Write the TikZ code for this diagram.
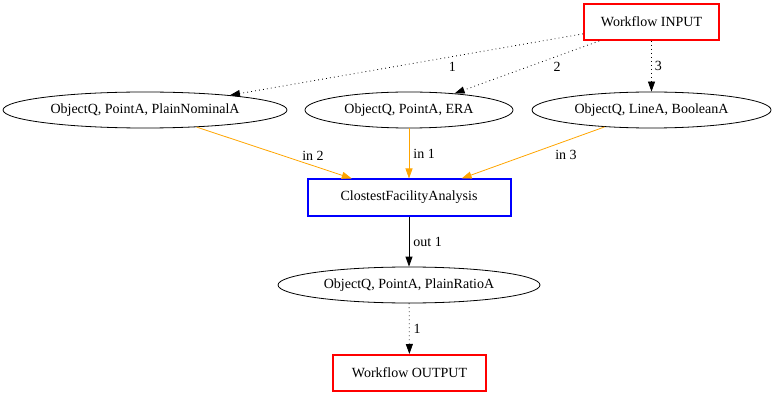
\documentclass[tikz,border=0pt]{standalone}
\usepackage{fontspec}
\setmainfont{Liberation Serif}
\usetikzlibrary{shapes, arrows.meta, positioning}
\definecolor{wfred}{RGB}{255, 0, 0}
\definecolor{toolblue}{RGB}{0, 0, 255}
\definecolor{inorange}{RGB}{255, 165, 0}

\begin{document}
\begin{tikzpicture}[x=1pt, y=-1pt, font=\fontsize{14}{16}\selectfont,
  typenode/.style={draw, ellipse, line width=0.8pt, inner sep=0pt, minimum height=36pt},
  wfbox/.style={draw=wfred, line width=2pt, inner sep=0pt, minimum height=36pt},
  toolbox/.style={draw=toolblue, line width=2pt, inner sep=0pt, minimum height=36pt},
  flow/.style={line width=0.8pt, dash pattern=on 0.8pt off 3.2pt, -{Triangle[length=10pt, width=7pt]}},
  inflow/.style={draw=inorange, line width=0.8pt, -{Triangle[length=10pt, width=7pt]}},
  outflow/.style={line width=0.8pt, -{Triangle[length=10pt, width=7pt]}},
  elabel/.style={inner sep=2pt, text=black}]
  \useasboundingbox (0, 0) rectangle (775, 395);

  % Workflow input and the three data types it provides
  \node[wfbox, minimum width=135pt] (wfinput) at (651.5, 22) {Workflow INPUT};
  \node[typenode, minimum width=284pt] (nominalpt) at (145, 110) {ObjectQ, PointA, PlainNominalA};
  \node[typenode, minimum width=208pt] (erapt) at (409, 110) {ObjectQ, PointA, ERA};
  \node[typenode, minimum width=239pt] (booleanln) at (651.5, 110) {ObjectQ, LineA, BooleanA};

  % Tool, its output type and the workflow output
  \node[toolbox, minimum width=203pt] (closest) at (409, 197.5) {ClostestFacilityAnalysis};
  \node[typenode, minimum width=262pt] (ratiopt) at (409, 285) {ObjectQ, PointA, PlainRatioA};
  \node[wfbox, minimum width=153pt] (wfoutput) at (409.5, 373) {Workflow OUTPUT};

  % Input edges
  \draw[flow] (wfinput) -- node[elabel, pos=0.37, below=3pt] {1} (nominalpt);
  \draw[flow] (wfinput) -- node[elabel, pos=0.29, below=4pt] {2} (erapt);
  \draw[flow] (wfinput) -- node[elabel, pos=0.5, right=1pt] {3} (booleanln);

  % Tool inputs
  \draw[inflow] (nominalpt) -- node[elabel, pos=0.75, above=3pt] {in 2} (closest);
  \draw[inflow] (erapt) -- node[elabel, pos=0.5, right=2pt] {in 1} (closest);
  \draw[inflow] (booleanln) -- node[elabel, pos=0.27, below=7pt] {in 3} (closest);

  % Tool output
  \draw[outflow] (closest) -- node[elabel, pos=0.5, right=2pt] {out 1} (ratiopt);
  \draw[flow] (ratiopt) -- node[elabel, pos=0.5, right=2pt] {1} (wfoutput);
\end{tikzpicture}
\end{document}
